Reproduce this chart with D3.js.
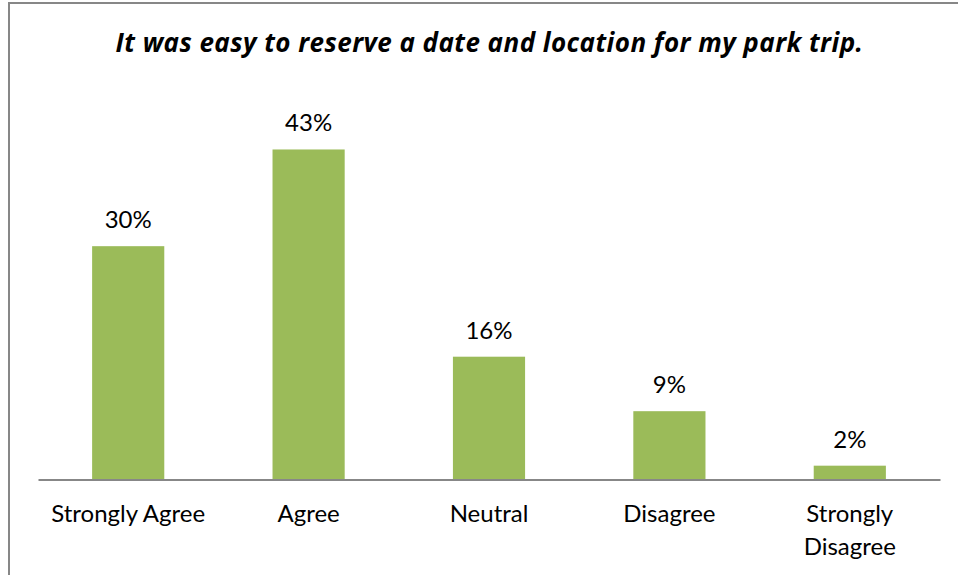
<!DOCTYPE html>
<html lang="en">
<head>
  <meta charset="UTF-8">
  <title>Park trip reservation survey</title>
  <script src="https://d3js.org/d3.v7.min.js"></script>
  <style>
    body {
      margin: 0;
      background: #fff;
      font-family: Lato, 'Open Sans', sans-serif;
    }
    svg { display: block; }
  </style>
</head>
<body>
  <div id="chart"></div>
  <script>
    const title = "It was easy to reserve a date and location for my park trip.";
    const categories = ["Strongly Agree", "Agree", "Neutral", "Disagree", "Strongly Disagree"];
    const values = [30.4, 43.0, 16.0, 8.9, 1.8];
    const labels = ["30%", "43%", "16%", "9%", "2%"];

    const width = 958, height = 575;
    const plot = { left: 38, right: 940, top: 95.75, bottom: 479.5 };

    const svg = d3.select("#chart")
      .append("svg")
      .attr("width", width)
      .attr("height", height);

    // chart frame (only left/top edges fall inside the window)
    svg.append("rect")
      .attr("x", 9)
      .attr("y", 3)
      .attr("width", 980)
      .attr("height", 600)
      .attr("fill", "none")
      .attr("stroke", "#878787")
      .attr("stroke-width", 2);

    svg.append("text")
      .attr("x", 489.5)
      .attr("y", 52)
      .attr("text-anchor", "middle")
      .style("font-family", "'Open Sans', sans-serif")
      .style("font-size", "26px")
      .style("letter-spacing", "0.45px")
      .style("font-weight", "bold")
      .style("font-style", "italic")
      .attr("fill", "#000")
      .text(title);

    const x = d3.scaleBand()
      .domain(categories)
      .range([plot.left, plot.right])
      .paddingInner(0.6)
      .paddingOuter(0.3);

    const y = d3.scaleLinear()
      .domain([0, 50])
      .range([plot.bottom, plot.top]);

    svg.selectAll(".bar")
      .data(values)
      .enter().append("rect")
      .attr("class", "bar")
      .attr("x", (d, i) => x(categories[i]))
      .attr("width", x.bandwidth())
      .attr("y", d => y(d))
      .attr("height", d => y(0) - y(d))
      .attr("fill", "#9bbb59");

    svg.selectAll(".valueLabel")
      .data(values)
      .enter().append("text")
      .attr("class", "valueLabel")
      .attr("x", (d, i) => x(categories[i]) + x.bandwidth() / 2)
      .attr("y", d => y(d) - 18)
      .attr("text-anchor", "middle")
      .style("font-size", "24px")
      .attr("fill", "#000")
      .text((d, i) => labels[i]);

    const xAxis = svg.append("g")
      .attr("transform", `translate(0,${plot.bottom})`)
      .call(d3.axisBottom(x).tickSize(0).tickFormat(""));
    xAxis.select(".domain")
      .attr("stroke", "#878787")
      .attr("stroke-width", 2);

    // category labels, wrapped where Excel wrapped them
    const catLines = c => c === "Strongly Disagree" ? ["Strongly", "Disagree"] : [c];
    svg.selectAll(".catLabel")
      .data(categories)
      .enter().append("text")
      .attr("class", "catLabel")
      .attr("text-anchor", "middle")
      .style("font-size", "24px")
      .attr("fill", "#000")
      .each(function (c) {
        const t = d3.select(this);
        catLines(c).forEach((line, j) => {
          t.append("tspan")
            .attr("x", x(c) + x.bandwidth() / 2)
            .attr("y", 522 + j * 33)
            .text(line);
        });
      });
  </script>
</body>
</html>
